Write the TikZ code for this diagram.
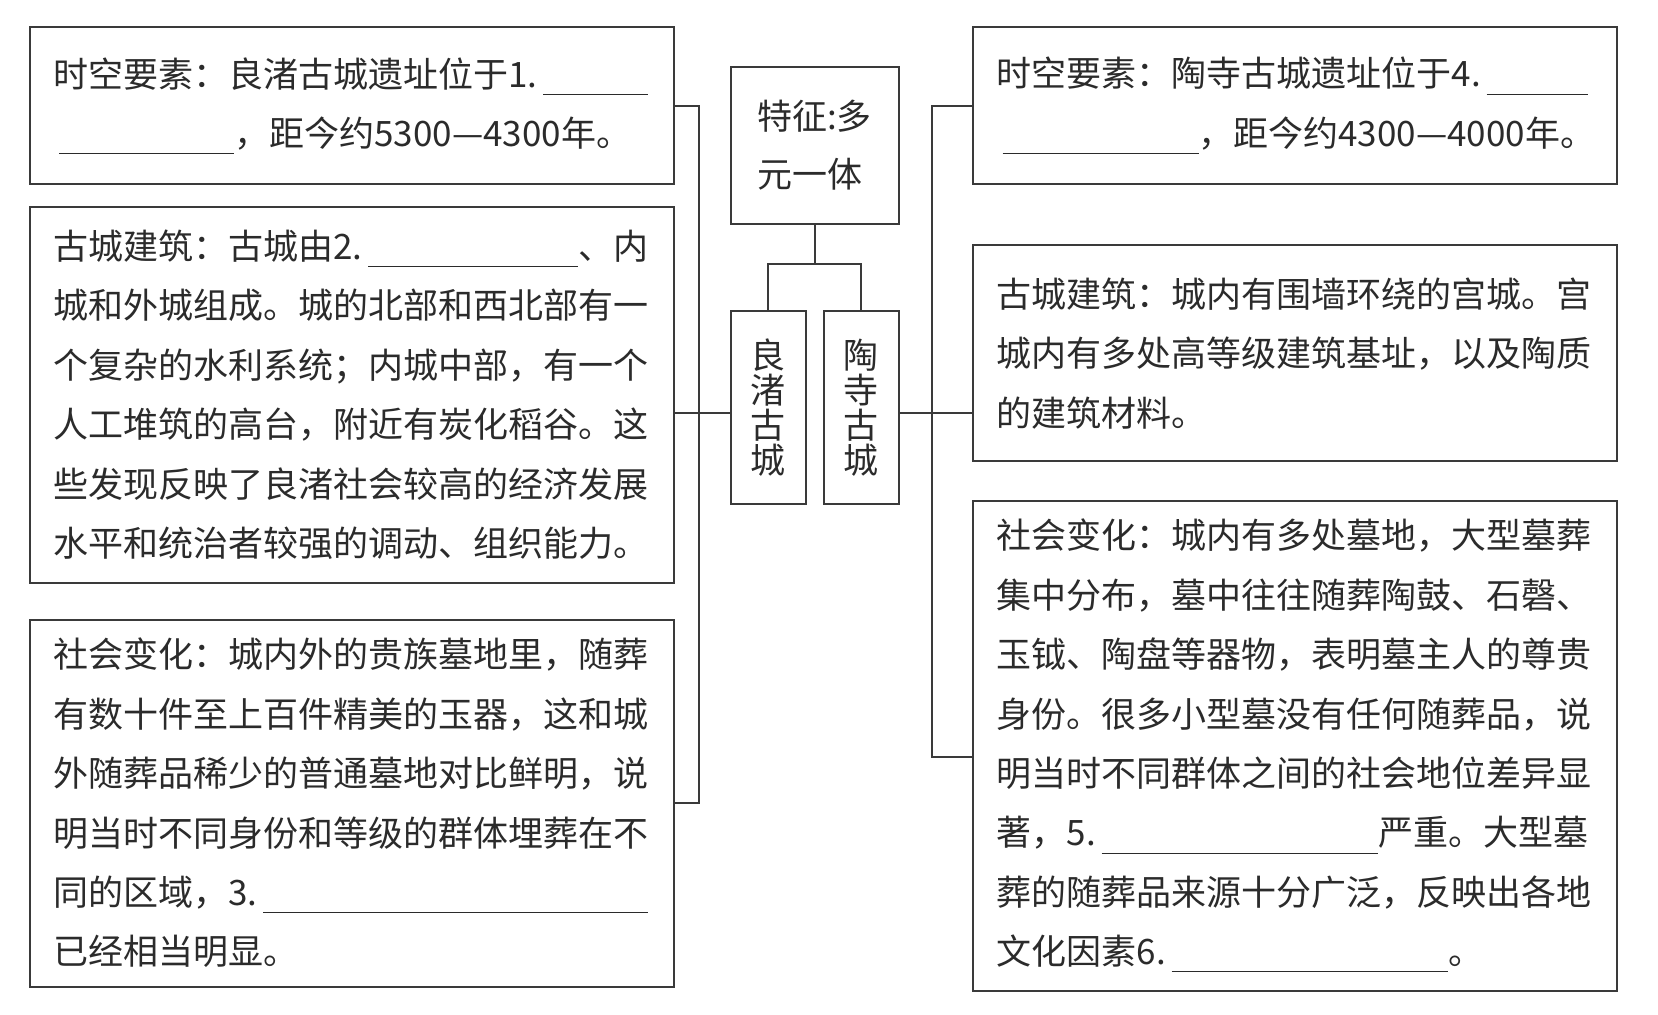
\documentclass[tikz,border=0pt]{standalone}
\usepackage{fontspec}
\setmainfont{Noto Sans CJK SC}
\usetikzlibrary{positioning}
\definecolor{cline}{HTML}{3A3A3A}
\definecolor{ctext}{HTML}{2B2B2B}
\newcommand{\blank}[1]{\,\rule[-0.22em]{#1em}{0.55pt}}
\tikzset{
  every picture/.style={line width=1pt},
  panel/.style={draw=cline, anchor=north west, align=left, text=ctext, text width=298pt,
    inner xsep=12pt, inner ysep=0pt, font=\fontsize{17.5}{29.7}\selectfont, minimum height=#1},
  panel/.default=80pt,
  hub/.style={draw=cline, anchor=north west, align=left, text=ctext, minimum width=84pt,
    minimum height=78.8pt, inner sep=0pt, font=\fontsize{17.5}{29}\selectfont},
  city/.style={draw=cline, anchor=north west, align=center, text=ctext, minimum width=37.5pt,
    minimum height=96.8pt, inner sep=0pt, font=\fontsize{17.5}{17.5}\selectfont},
  link/.style={draw=cline, line width=1pt},
}

\begin{document}
\begin{tikzpicture}[x=0.5pt, y=-0.5pt]
  \useasboundingbox (0,0) rectangle (1658,1014);
  % left column: Liangzhu
  \node[panel=78.3pt] (L1) at (28.5,26.4) {时空要素：良渚古城遗址位于1.\blank{3.0}\\
    \blank{5.0}，距今约\mbox{5300—4300}年。};
  \node[panel=187.8pt] (L2) at (28.5,206) {古城建筑：古城由2.\blank{6.0}、内\\
    城和外城组成。城的北部和西北部有一\\
    个复杂的水利系统；内城中部，有一个\\
    人工堆筑的高台，附近有炭化稻谷。这\\
    些发现反映了良渚社会较高的经济发展\\
    水平和统治者较强的调动、组织能力。};
  \node[panel=183.5pt] (L3) at (28.5,618.6) {社会变化：城内外的贵族墓地里，随葬\\
    有数十件至上百件精美的玉器，这和城\\
    外随葬品稀少的普通墓地对比鲜明，说\\
    明当时不同身份和等级的群体埋葬在不\\
    同的区域，3.\blank{11.0}\\
    已经相当明显。};
  % centre
  \node[hub] (top) at (729.6,65.6) {特征:多\\元一体};
  \node[city] (liangzhu) at (729.6,309.8) {良\\渚\\古\\城};
  \node[city] (taosi) at (822.6,309.8) {陶\\寺\\古\\城};
  % right column: Taosi
  \node[panel=78.3pt] (R1) at (971.7,26.4) {时空要素：陶寺古城遗址位于4.\blank{2.9}\\
    \blank{5.6}，距今约\mbox{4300—4000}年。};
  \node[panel=107.9pt] (R2) at (971.7,244.3) {古城建筑：城内有围墙环绕的宫城。宫\\
    城内有多处高等级建筑基址，以及陶质\\
    的建筑材料。};
  \node[panel=244.8pt] (R3) at (971.7,500) {社会变化：城内有多处墓地，大型墓葬\\
    集中分布，墓中往往随葬陶鼓、石磬、\\
    玉钺、陶盘等器物，表明墓主人的尊贵\\
    身份。很多小型墓没有任何随葬品，说\\
    明当时不同群体之间的社会地位差异显\\
    著，5.\blank{7.9}严重。大型墓\\
    葬的随葬品来源十分广泛，反映出各地\\
    文化因素6.\blank{7.9}。};
  % connectors
  \coordinate (fork) at (813.65,264.4);
  \coordinate (lmid) at (699,413.4);
  \coordinate (rmid) at (931.6,413.4);
  \coordinate (rlow) at (931.6,757.1);
  \draw[link] (top.south) -- (top.south |- fork);
  \draw[link] (liangzhu.north) |- (fork) -| (taosi.north);
  \draw[link] (L1.east) -| (lmid) |- (L3.east);
  \draw[link] (L2.east |- lmid) -- (liangzhu.west |- lmid);
  \draw[link] (R1.west) -| (rlow) -- (R3.west |- rlow);
  \draw[link] (taosi.east |- rmid) -- (R2.west |- rmid);
\end{tikzpicture}
\end{document}
